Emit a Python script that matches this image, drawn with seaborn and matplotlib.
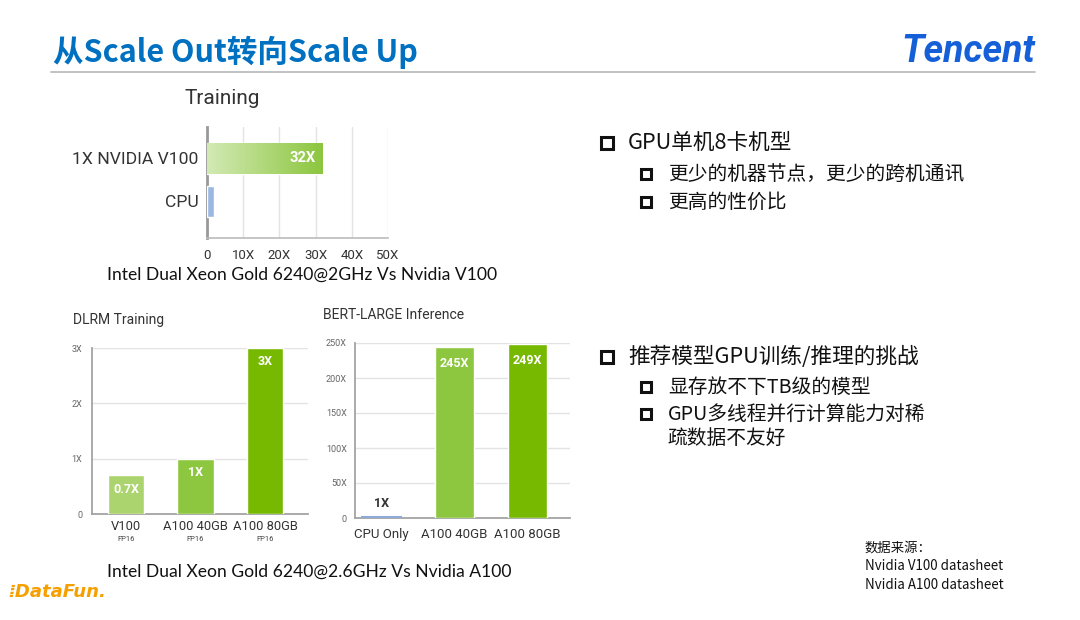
import numpy as np
import pandas as pd
import seaborn as sns
import matplotlib
matplotlib.use("Agg")
import matplotlib.pyplot as plt
from matplotlib.colors import LinearSegmentedColormap
from matplotlib.patches import Rectangle
from matplotlib.lines import Line2D

# ---------------- data ----------------
train_cats = ["1X NVIDIA V100", "CPU"]
train_vals = [32, 1.8]
train_labels = ["32X", ""]
train_ticks = [0, 10, 20, 30, 40, 50]
train_ticklabels = ["0", "10X", "20X", "30X", "40X", "50X"]

dlrm_cats = ["V100", "A100 40GB", "A100 80GB"]
dlrm_sub = ["FP16", "FP16", "FP16"]
dlrm_vals = [0.7, 1.0, 3.0]
dlrm_labels = ["0.7X", "1X", "3X"]
dlrm_ticks = [0, 1, 2, 3]
dlrm_ticklabels = ["0", "1X", "2X", "3X"]

bert_cats = ["CPU Only", "A100 40GB", "A100 80GB"]
bert_vals = [1, 245, 249]
bert_labels = ["1X", "245X", "249X"]
bert_ticks = [0, 50, 100, 150, 200, 250]
bert_ticklabels = ["0", "50X", "100X", "150X", "200X", "250X"]

# ---------------- style ----------------
sns.set_theme(style="white")
plt.rcParams['font.family'] = ['Noto Sans CJK SC', 'DejaVu Sans']

W, H = 1080, 620
fig = plt.figure(figsize=(W / 100, H / 100), dpi=100)
fig.patch.set_facecolor("white")

def fx(x):
    return x / W

def fy(y):
    return 1 - y / H

def axrect(x0, y0, x1, y1):
    return [fx(x0), fy(y1), fx(x1) - fx(x0), fy(y0) - fy(y1)]

CHART_FONT = ['Roboto', 'DejaVu Sans']
GRID = "#e3e3e3"
SPINE = "#a0a0a0"

# ---------------- chart 1: Training ----------------
ax1 = fig.add_axes(axrect(207, 127, 388, 238))
df1 = pd.DataFrame({"cat": train_cats, "val": train_vals})
sns.barplot(data=df1, x="val", y="cat", hue="cat", orient="h",
            palette=["#8cc63f", "#9ab8e2"], width=0.72, saturation=1,
            legend=False, ax=ax1, zorder=3)
ax1.set_xlim(0, 50)
ax1.set_ylim(1.85, -0.73)
# gradient on GPU bar
p = ax1.patches[0]
bb = p.get_bbox()
cmap = LinearSegmentedColormap.from_list("g", ["#d3eab5", "#8cc63f"])
grad = np.linspace(0, 1, 256).reshape(1, -1)
im = ax1.imshow(grad, extent=[bb.x0, bb.x1, bb.y1, bb.y0], aspect="auto",
                cmap=cmap, zorder=4)
im.set_clip_path(p)
ax1.set_xlim(0, 50)
ax1.set_ylim(1.85, -0.73)
for i, (v, lab) in enumerate(zip(train_vals, train_labels)):
    if lab:
        ax1.annotate(lab, xy=(v, i), xytext=(-5, 0), textcoords="offset points",
                     ha="right", va="center", color="white", fontsize=10.5,
                     fontweight="bold", family=CHART_FONT, zorder=6)
ax1.set_xticks(train_ticks)
ax1.set_xticklabels(train_ticklabels, family=CHART_FONT, fontsize=9.5, color="#333333")
ax1.set_yticks(range(len(train_cats)))
ax1.set_yticklabels(train_cats, family=CHART_FONT, fontsize=12.6, color="#333333")
ax1.tick_params(axis="both", length=0, pad=6)
ax1.tick_params(axis="x", pad=8)
ax1.xaxis.grid(True, color=GRID, linewidth=1, zorder=0)
ax1.set_axisbelow(True)
for s in ["top", "right"]:
    ax1.spines[s].set_visible(False)
ax1.spines["left"].set_color("#999999")
ax1.spines["left"].set_linewidth(2)
ax1.spines["bottom"].set_color("#bbbbbb")
ax1.spines["bottom"].set_linewidth(1.2)
ax1.set_xlabel("")
ax1.set_ylabel("")
fig.text(fx(222), fy(99), "Training", family=CHART_FONT, fontsize=15,
         color="#333333", ha="center", va="center")

# ---------------- chart 2: DLRM ----------------
ax2 = fig.add_axes(axrect(92, 348, 308, 514))
df2 = pd.DataFrame({"cat": dlrm_cats, "val": dlrm_vals})
sns.barplot(data=df2, x="cat", y="val", hue="cat",
            palette=["#acd46e", "#8dc63f", "#76b900"], width=0.52,
            saturation=1, legend=False, ax=ax2, zorder=3)
ax2.set_xlim(-0.49, 2.62)
ax2.set_ylim(0, 3)
for i, (v, lab) in enumerate(zip(dlrm_vals, dlrm_labels)):
    ax2.annotate(lab, xy=(i, v), xytext=(0, -10), textcoords="offset points",
                 ha="center", va="center", color="white", fontsize=9,
                 fontweight="bold", family=CHART_FONT, zorder=6)
    ax2.annotate(dlrm_sub[i], xy=(i, 0), xycoords=("data", "axes fraction"),
                 xytext=(0, -18), textcoords="offset points", ha="center",
                 va="center", fontsize=5.5, color="#444444", family=CHART_FONT)
ax2.set_yticks(dlrm_ticks)
ax2.set_yticklabels(dlrm_ticklabels, family=CHART_FONT, fontsize=6.5, color="#666666")
ax2.set_xticks(range(len(dlrm_cats)))
ax2.set_xticklabels(dlrm_cats, family=CHART_FONT, fontsize=9.3, color="#333333")
ax2.tick_params(axis="both", length=0)
ax2.tick_params(axis="y", pad=7)
ax2.tick_params(axis="x", pad=4)
ax2.yaxis.grid(True, color=GRID, linewidth=1)
ax2.set_axisbelow(True)
for s in ["top", "right"]:
    ax2.spines[s].set_visible(False)
ax2.spines["left"].set_color(SPINE)
ax2.spines["bottom"].set_color(SPINE)
ax2.set_xlabel("")
ax2.set_ylabel("")
fig.text(fx(73), fy(320), "DLRM Training", family=CHART_FONT, fontsize=10,
         color="#333333", ha="left", va="center")

# ---------------- chart 3: BERT ----------------
ax3 = fig.add_axes(axrect(355, 343, 570, 518))
df3 = pd.DataFrame({"cat": bert_cats, "val": bert_vals})
sns.barplot(data=df3, x="cat", y="val", hue="cat",
            palette=["#8eaadb", "#8dc63f", "#76b900"], width=0.53,
            saturation=1, legend=False, ax=ax3, zorder=3)
ax3.patches[0].set_edgecolor("#8eaadb")
ax3.patches[0].set_linewidth(1.5)
ax3.set_xlim(-0.363, 2.58)
ax3.set_ylim(0, 250)
for i, (v, lab) in enumerate(zip(bert_vals, bert_labels)):
    if v < 50:
        ax3.annotate(lab, xy=(i, v), xytext=(0, 10), textcoords="offset points",
                     ha="center", va="center", color="#333333", fontsize=9,
                     fontweight="bold", family=CHART_FONT, zorder=6)
    else:
        ax3.annotate(lab, xy=(i, v), xytext=(0, -12), textcoords="offset points",
                     ha="center", va="center", color="white", fontsize=9,
                     fontweight="bold", family=CHART_FONT, zorder=6)
ax3.set_yticks(bert_ticks)
ax3.set_yticklabels(bert_ticklabels, family=CHART_FONT, fontsize=6.5, color="#666666")
ax3.set_xticks(range(len(bert_cats)))
ax3.set_xticklabels(bert_cats, family=CHART_FONT, fontsize=9.5, color="#333333")
ax3.tick_params(axis="both", length=0)
ax3.tick_params(axis="y", pad=6)
ax3.tick_params(axis="x", pad=7)
ax3.yaxis.grid(True, color=GRID, linewidth=1)
ax3.set_axisbelow(True)
for s in ["top", "right"]:
    ax3.spines[s].set_visible(False)
ax3.spines["left"].set_color(SPINE)
ax3.spines["bottom"].set_color(SPINE)
ax3.set_xlabel("")
ax3.set_ylabel("")
fig.text(fx(323), fy(315), "BERT-LARGE Inference", family=CHART_FONT, fontsize=10,
         color="#333333", ha="left", va="center")

# ---------------- slide decorations ----------------
TITLE_FONT = ['Noto Sans CJK SC', 'DejaVu Sans']
fig.text(fx(53), fy(52), "从Scale Out转向Scale Up", family=TITLE_FONT,
         fontsize=22, fontweight="bold", color="#0070c0", ha="left", va="center")
fig.add_artist(Line2D([fx(51), fx(1035)], [fy(72), fy(72)], color="#bdbdbd",
                      linewidth=1.3, transform=fig.transFigure))
fig.text(fx(1035), fy(52), "Tencent", family=['Roboto', 'DejaVu Sans'],
         fontsize=27, fontweight="bold", fontstyle="italic", color="#1560d8",
         ha="right", va="center")
fig.text(fx(8), fy(592), "\u205eDataFun.", family=['DejaVu Sans'],
         fontsize=13, fontweight="bold", fontstyle="italic", color="#f5a000",
         ha="left", va="center")

CAP_FONT = ['Lato', 'DejaVu Sans']
fig.text(fx(107), fy(275), "Intel Dual Xeon Gold 6240@2GHz Vs Nvidia V100",
         family=CAP_FONT, fontsize=12.6, color="#111111", ha="left", va="center")
fig.text(fx(107), fy(572), "Intel Dual Xeon Gold 6240@2.6GHz Vs Nvidia A100",
         family=CAP_FONT, fontsize=12.6, color="#111111", ha="left", va="center")

# bullets
def bullet(x, y, size):
    fig.add_artist(Rectangle((fx(x), fy(y + size / 2)), size / W, size / H,
                             fill=False, edgecolor="#111111", linewidth=2.2,
                             transform=fig.transFigure))

main_items = [(143, "GPU单机8卡机型"), (357, "推荐模型GPU训练/推理的挑战")]
sub_items = [(174, "更少的机器节点，更少的跨机通讯", True),
             (202, "更高的性价比", True),
             (387, "显存放不下TB级的模型", True),
             (414, "GPU多线程并行计算能力对稀", True),
             (438, "疏数据不友好", False)]
for y, t in main_items:
    bullet(601, y, 12)
    fig.text(fx(628), fy(y), t, family=TITLE_FONT, fontsize=15.6,
             color="#111111", ha="left", va="center")
for y, t, b in sub_items:
    if b:
        bullet(641, y, 10)
    fig.text(fx(668), fy(y), t, family=TITLE_FONT, fontsize=14.2,
             color="#111111", ha="left", va="center")

for y, t in [(548, "数据来源："), (566, "Nvidia V100 datasheet"),
             (585, "Nvidia A100 datasheet")]:
    fig.text(fx(865), fy(y), t, family=TITLE_FONT, fontsize=9.6,
             color="#111111", ha="left", va="center")

fig.savefig("out.png", dpi=100, facecolor="white")
